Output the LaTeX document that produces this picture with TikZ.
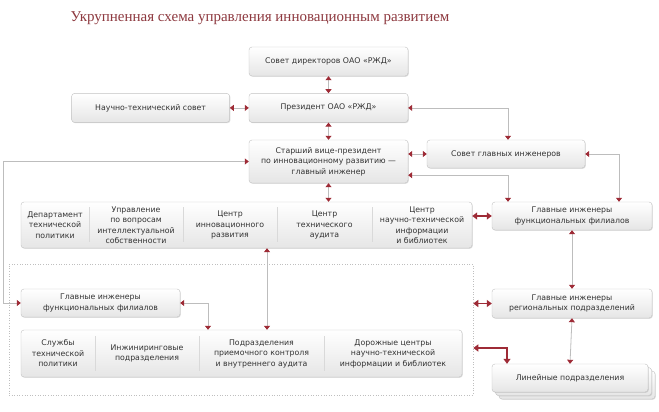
\documentclass[tikz,border=0pt]{standalone}
\usepackage{fontspec}
\setmainfont{DejaVu Sans}
\newfontfamily\zagolfont{Liberation Serif}
\usepackage{tikz}
\usetikzlibrary{positioning,arrows.meta,shadows,calc}
\definecolor{ckrasn}{HTML}{9E2B36}
\definecolor{cseryj}{HTML}{BDBDBD}
\definecolor{cramka}{HTML}{C2C2C2}
\definecolor{czagol}{HTML}{8E3A40}
\definecolor{ctekst}{HTML}{333333}
\tikzset{
  blok/.style={rectangle, rounded corners=3pt, draw=cramka, top color=white, bottom color=black!10,
    align=center, minimum width=159pt, minimum height=29pt, inner sep=1pt,
    font=\fontsize{7.8}{10.5}\selectfont, text=ctekst,
    drop shadow={shadow xshift=0.8pt, shadow yshift=-0.8pt, opacity=0.25}},
  yach/.style={align=center, inner sep=0pt, font=\fontsize{7.8}{10.5}\selectfont, text=ctekst},
  svyaz/.style={{Triangle[length=4pt,width=6pt,color=ckrasn]}-{Triangle[length=4pt,width=6pt,color=ckrasn]},
    draw=cseryj, line width=0.8pt},
  tolst/.style={{Triangle[length=5pt,width=7pt]}-{Triangle[length=5pt,width=7pt]},
    draw=ckrasn, line width=1.8pt},
  razdel/.style={draw=black!15, line width=0.7pt},
  punktir/.style={draw=black!25, dotted, line width=0.6pt},
}
\begin{document}
\begin{tikzpicture}[x=1pt, y=-1pt, node distance=17pt]
  \useasboundingbox[fill=white] (0,0) rectangle (659,412);
  \node[font=\zagolfont\fontsize{15}{18}\selectfont, text=czagol] (zagol) at (260,18)
    {Укрупненная схема управления инновационным развитием};

  % верхняя вертикаль
  \node[blok] (sovet) at (328.5,61.5) {Совет директоров ОАО «РЖД»};
  \node[blok, below=of sovet] (prez) {Президент ОАО «РЖД»};
  \node[blok, left=19pt of prez, minimum width=158pt] (nts) {Научно-технический совет};
  \node[blok, minimum height=43pt] (svp) at (328.5,161.5)
    {Старший вице-президент\\по инновационному развитию —\\главный инженер};
  \node[blok, minimum width=158pt, minimum height=28pt] (sgi) at (506,154) {Совет главных инженеров};

  % центральный аппарат
  \node[blok, minimum width=451pt, minimum height=46pt] (verh) at (246.5,225) {};
  \node[yach] (dtp) at (55,225) {Департамент\\технической\\политики};
  \node[yach] (uis) at (136,225) {Управление\\по вопросам\\интеллектуальной\\собственности};
  \node[yach] (cir) at (230,225) {Центр\\инновационного\\развития};
  \node[yach] (cta) at (324.5,225) {Центр\\технического\\аудита};
  \node[yach] (cnti) at (422,225) {Центр\\научно-технической\\информации\\и библиотек};
  \foreach \x in {89,183,277,372}
    \draw[razdel] (\x,207) -- (\x,242);

  % правая колонка
  \node[blok, minimum width=160pt, minimum height=28pt] (gif) at (572,216)
    {Главные инженеры\\функциональных филиалов};
  \node[blok, minimum width=160pt] (gir) at (572,303.5)
    {Главные инженеры\\региональных подразделений};
  \node[blok, minimum width=156pt, minimum height=28pt] (lin3) at (577,385) {};
  \node[blok, minimum width=156pt, minimum height=28pt] (lin2) at (573.5,381.5) {};
  \node[blok, minimum width=156pt, minimum height=28pt] (lin) at (570,378) {Линейные подразделения};

  % филиалы
  \node[punktir, minimum width=464pt, minimum height=131pt, inner sep=0pt] (zona) at (241,329.5) {};
  \node[blok, minimum width=159pt, minimum height=28pt] (gifl) at (100.5,303)
    {Главные инженеры\\функциональных филиалов};
  \node[blok, minimum width=441pt, minimum height=47pt] (niz) at (241.5,353.5) {};
  \node[yach] (stp) at (58,353.5) {Службы\\технической\\политики};
  \node[yach] (inzh) at (147,353.5) {Инжиниринговые\\подразделения};
  \node[yach] (pk) at (261.5,353.5) {Подразделения\\приемочного контроля\\и внутреннего аудита};
  \node[yach] (dc) at (393,353.5) {Дорожные центры\\научно-технической\\информации и библиотек};
  \foreach \x in {95,199,324}
    \draw[razdel] (\x,336) -- (\x,371);

  % связи
  \coordinate (k1) at (508,0);
  \coordinate (k3) at (619,0);
  \coordinate (lk) at (3,0);
  \coordinate (ps) at (208,0);
  \coordinate (os) at (267,0);
  \coordinate (dl) at (507,348);
  \draw[svyaz] (sovet.south) -- (prez.north);
  \draw[svyaz] (nts.east) -- (prez.west);
  \draw[svyaz] (prez.south) -- (svp.north);
  \draw[svyaz] (svp.south) -- (verh.north -| svp.south);
  \draw[svyaz] (prez.east) -| (sgi.north -| k1);
  \draw[svyaz] (svp.east |- sgi.west) -- (sgi.west);
  \draw[svyaz] ($(svp.south east)+(0,-8)$) -| (gif.north -| k1);
  \draw[svyaz] (sgi.east) -| (gif.north -| k3);
  \draw[svyaz] (svp.west) -| (lk |- gifl.west) -- (gifl.west);
  \draw[svyaz] (gifl.east) -| (niz.north -| ps);
  \draw[svyaz] (verh.south -| os) -- (niz.north -| os);
  \draw[svyaz] (gif.south) -- (gir.north);
  \draw[svyaz] (gir.south) -- (lin.north);
  \draw[tolst] (verh.east |- gif.west) -- (gif.west);
  \draw[tolst] (zona.east |- gir.west) -- (gir.west);
  \draw[tolst] (zona.east |- dl) -| (lin.north -| dl);
\end{tikzpicture}
\end{document}
